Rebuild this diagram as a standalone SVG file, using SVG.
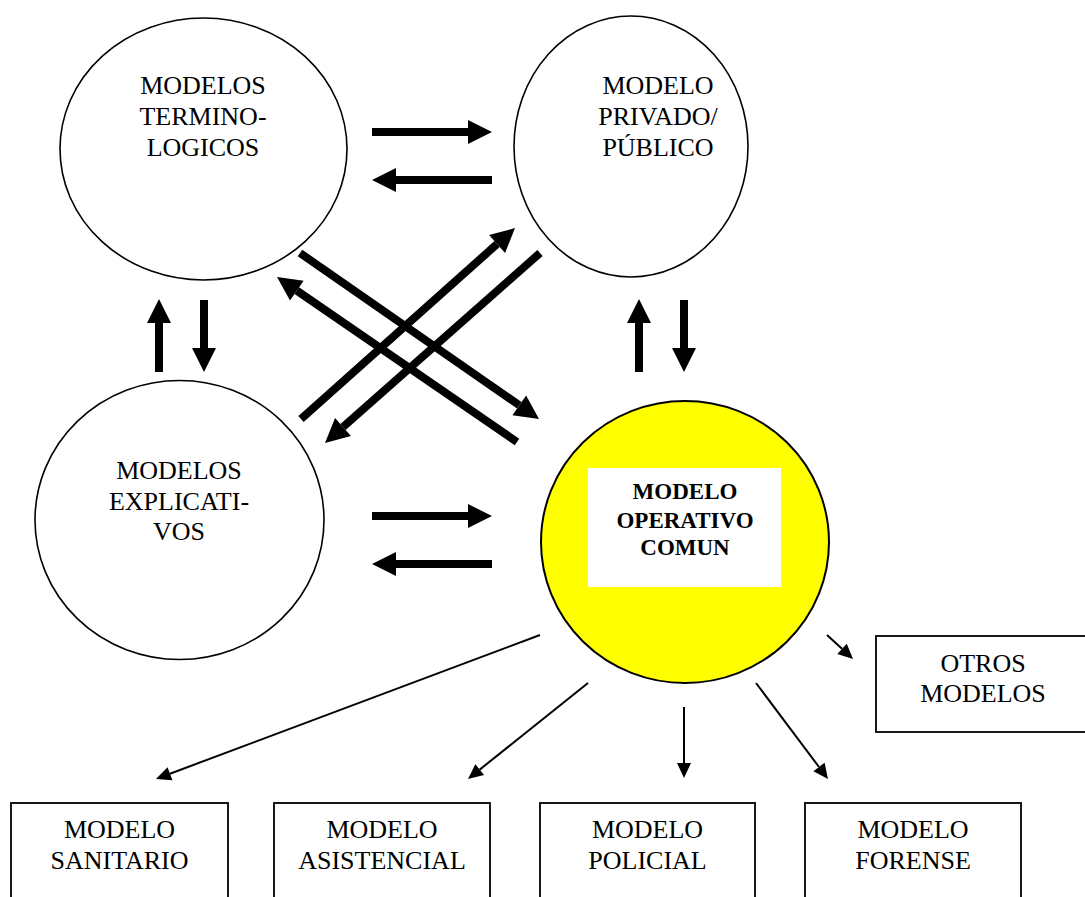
<svg xmlns="http://www.w3.org/2000/svg" width="1085" height="897" viewBox="0 0 1085 897">
<style>
.c{fill:#fff;stroke:#000;stroke-width:1.6}
.y{fill:#ffff00;stroke:#000;stroke-width:2}
.b{fill:#fff;stroke:#000;stroke-width:1.8}
.t{font-family:"Liberation Serif","Times New Roman",serif;font-size:26px;text-anchor:middle;fill:#000}
.tb{font-family:"Liberation Serif","Times New Roman",serif;font-size:23px;font-weight:bold;text-anchor:middle;fill:#000}
.k{stroke:#000;stroke-width:8;fill:none;marker-end:url(#hk)}
.n{stroke:#000;stroke-width:2;fill:none;marker-end:url(#hn)}
</style>
<defs>
<marker id="hk" markerUnits="userSpaceOnUse" markerWidth="26" markerHeight="26" refX="0" refY="12" orient="auto" overflow="visible"><path d="M0,0 L24,12 L0,24 Z" fill="#000"/></marker>
<marker id="hn" markerUnits="userSpaceOnUse" markerWidth="16" markerHeight="16" refX="0" refY="7" orient="auto" overflow="visible"><path d="M0,0 L15,7 L0,14 Z" fill="#000"/></marker>
</defs>
<rect width="1085" height="897" fill="#fff"/>
<g id="terminologicos">
<ellipse class="c" cx="203.5" cy="149" rx="143.5" ry="131"/>
<text class="t" x="203" y="94">MODELOS</text>
<text class="t" x="203" y="125">TERMINO-</text>
<text class="t" x="203" y="156">LOGICOS</text>
</g>
<g id="privado">
<ellipse class="c" cx="631" cy="146.5" rx="117" ry="130.5"/>
<text class="t" x="658" y="94">MODELO</text>
<text class="t" x="658" y="125">PRIVADO/</text>
<text class="t" x="658" y="156">PÚBLICO</text>
</g>
<g id="explicativos">
<ellipse class="c" cx="179.5" cy="520" rx="144.5" ry="139.5"/>
<text class="t" x="179" y="479">MODELOS</text>
<text class="t" x="179" y="510">EXPLICATI-</text>
<text class="t" x="179" y="540">VOS</text>
</g>
<g id="operativo">
<ellipse class="y" cx="685" cy="542" rx="144" ry="141"/>
<rect x="588" y="468" width="193" height="119" fill="#fff"/>
<text class="tb" x="685" y="499">MODELO</text>
<text class="tb" x="685" y="528">OPERATIVO</text>
<text class="tb" x="685" y="555">COMUN</text>
</g>
<g id="otros">
<rect class="b" x="876" y="636" width="210" height="96"/>
<text class="t" x="983" y="672">OTROS</text>
<text class="t" x="983" y="702">MODELOS</text>
</g>
<g id="sanitario">
<rect class="b" x="11" y="803" width="217" height="110"/>
<text class="t" x="119.5" y="838">MODELO</text>
<text class="t" x="119.5" y="869">SANITARIO</text>
</g>
<g id="asistencial">
<rect class="b" x="274" y="803" width="216" height="110"/>
<text class="t" x="382" y="838">MODELO</text>
<text class="t" x="382" y="869">ASISTENCIAL</text>
</g>
<g id="policial">
<rect class="b" x="540" y="803" width="215" height="110"/>
<text class="t" x="647.5" y="838">MODELO</text>
<text class="t" x="647.5" y="869">POLICIAL</text>
</g>
<g id="forense">
<rect class="b" x="805" y="803" width="216" height="110"/>
<text class="t" x="913" y="838">MODELO</text>
<text class="t" x="913" y="869">FORENSE</text>
</g>
<g id="connectors">
<line class="k" x1="372" y1="132" x2="468" y2="132"/>
<line class="k" x1="492" y1="180" x2="396" y2="180"/>
<line class="k" x1="372" y1="516" x2="468" y2="516"/>
<line class="k" x1="492" y1="564" x2="396" y2="564"/>
<line class="k" x1="159" y1="372" x2="159" y2="323"/>
<line class="k" x1="204" y1="300" x2="204" y2="348"/>
<line class="k" x1="639" y1="372" x2="639" y2="323"/>
<line class="k" x1="684" y1="300" x2="684" y2="348"/>
<line class="k" x1="300" y1="253" x2="519.3" y2="405.3"/>
<line class="k" x1="517" y1="442" x2="296.8" y2="290.6"/>
<line class="k" x1="301" y1="419" x2="497.1" y2="244"/>
<line class="k" x1="540" y1="253" x2="343" y2="427.1"/>
<line class="n" x1="540" y1="635" x2="170" y2="773.7"/>
<line class="n" x1="588" y1="683" x2="479.7" y2="769.6"/>
<line class="n" x1="684" y1="707" x2="684" y2="763"/>
<line class="n" x1="756" y1="683" x2="819" y2="767"/>
<line class="n" x1="827" y1="635" x2="842" y2="648.8"/>
</g>
</svg>
